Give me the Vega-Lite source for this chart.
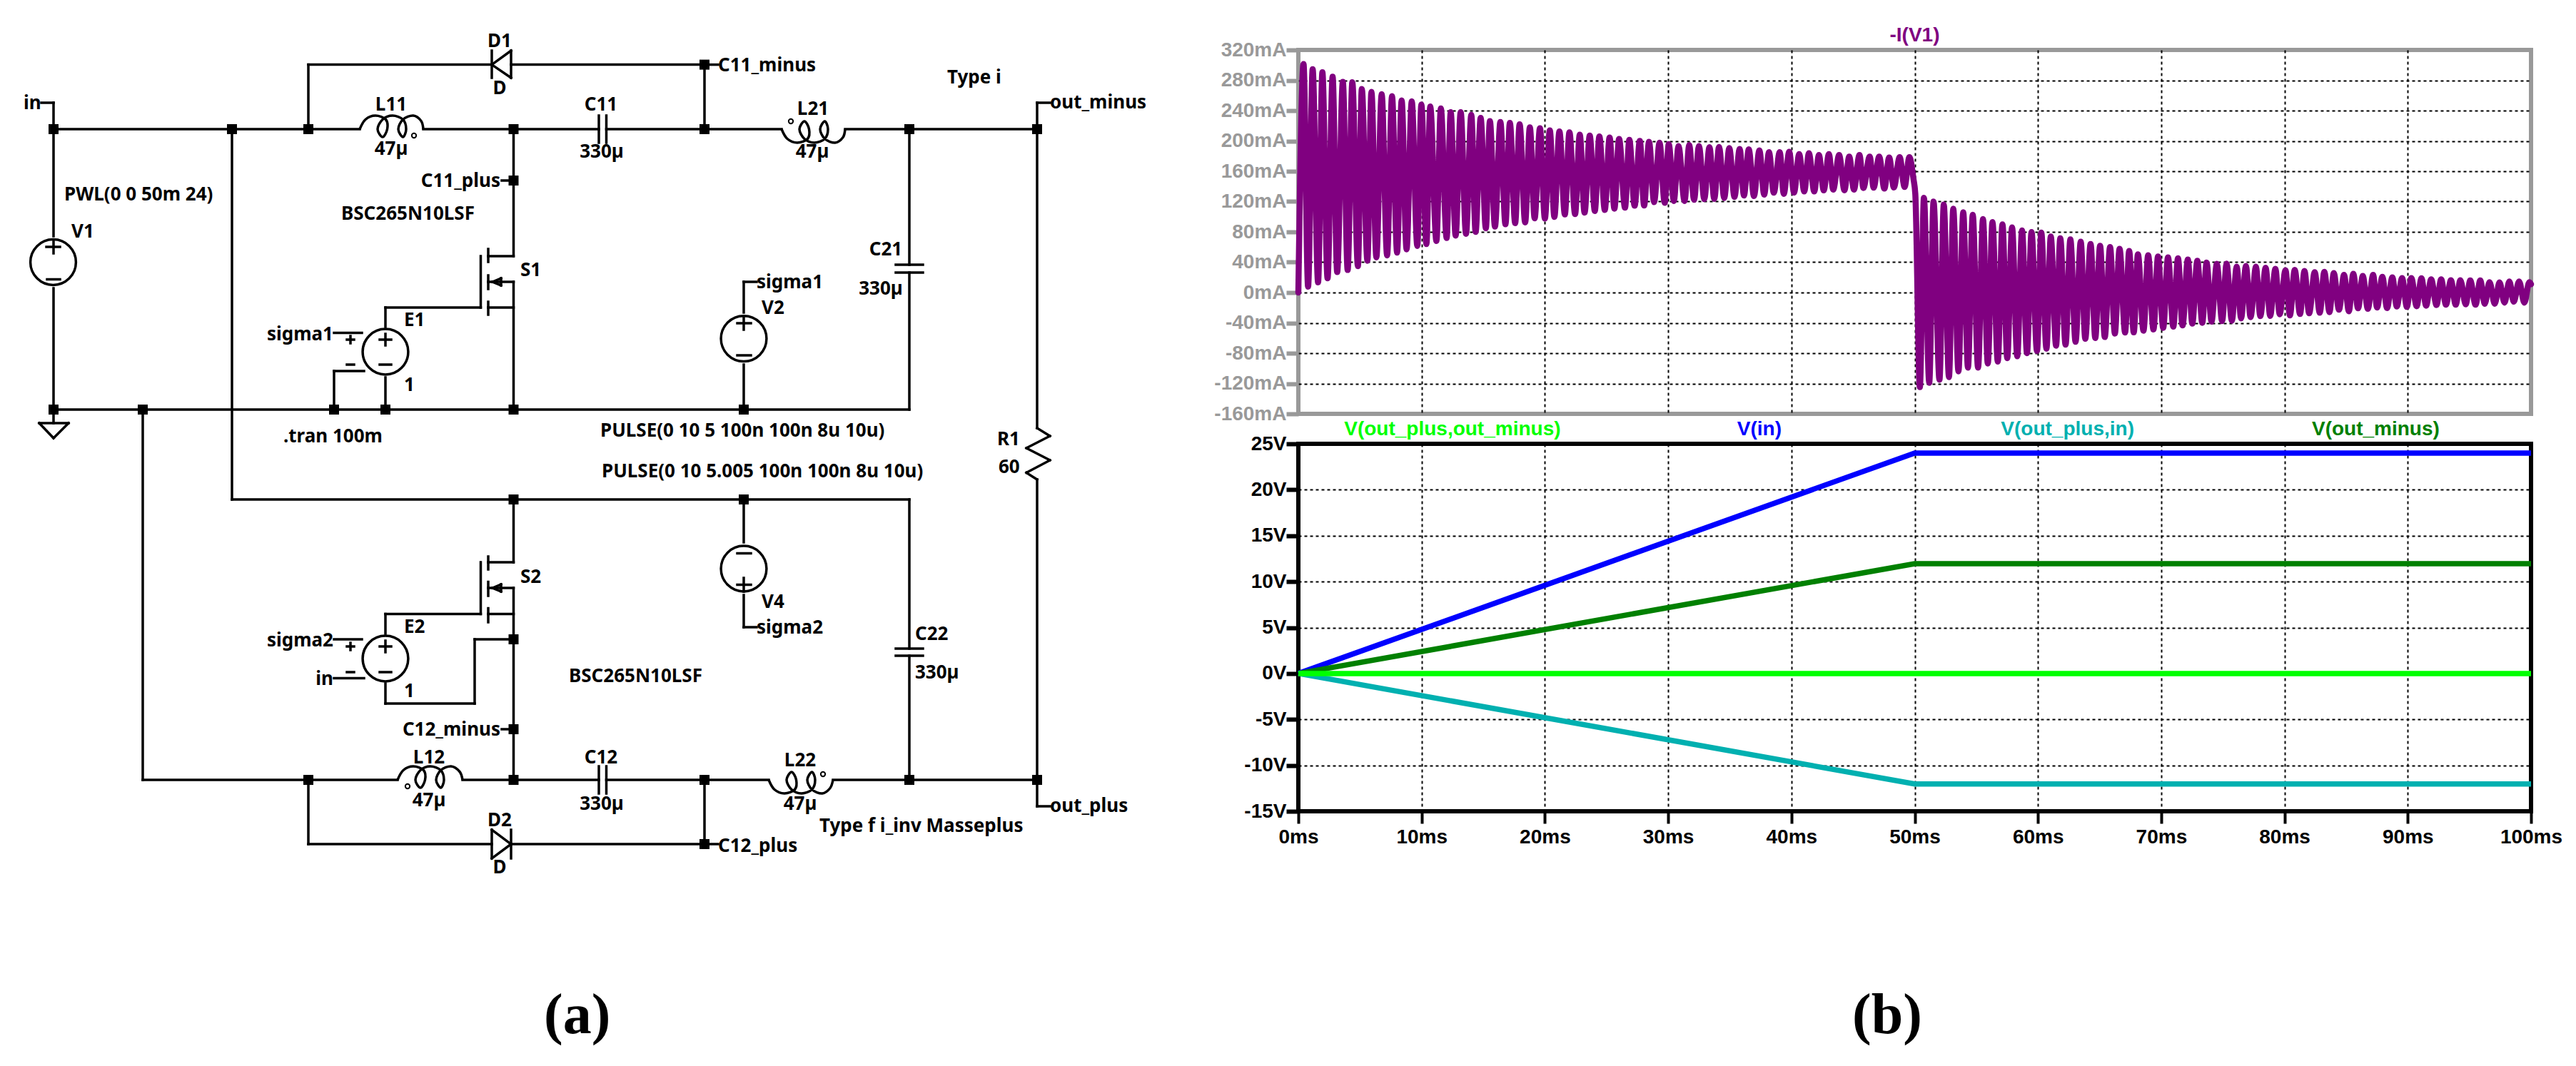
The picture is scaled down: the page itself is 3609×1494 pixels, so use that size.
{
  "$schema": "https://vega.github.io/schema/vega-lite/v6.json",
  "description": "LTspice schematic (a) and simulated current and voltage traces (b)",
  "background": "white",
  "padding": 0,
  "bounds": "flush",
  "spacing": 19,
  "config": {"font": "Liberation Sans"},
  "datasets": {
    "current": [
      {"ms":0,"mA":0},{"ms":0.42,"mA":301.5},{"ms":0.79,"mA":7.8},{"ms":1.16,"mA":294.6},{"ms":1.6,"mA":13.5},{"ms":1.95,"mA":290.5},{"ms":2.37,"mA":18.8},{"ms":2.78,"mA":284.8},{"ms":3.15,"mA":27},{"ms":3.61,"mA":278},{"ms":4,"mA":29.8},{"ms":4.38,"mA":277.3},{"ms":4.83,"mA":34.8},{"ms":5.15,"mA":268.5},{"ms":5.6,"mA":42},{"ms":5.93,"mA":264.8},{"ms":6.33,"mA":46.4},{"ms":6.76,"mA":261.6},{"ms":7.2,"mA":49},{"ms":7.6,"mA":259},{"ms":8.01,"mA":52.7},{"ms":8.38,"mA":253.5},{"ms":8.78,"mA":57},{"ms":9.2,"mA":252.2},{"ms":9.65,"mA":61.5},{"ms":9.98,"mA":248},{"ms":10.39,"mA":64},{"ms":10.7,"mA":245.3},{"ms":11.2,"mA":68},{"ms":11.56,"mA":242.8},{"ms":12.03,"mA":72},{"ms":12.36,"mA":237.8},{"ms":12.76,"mA":75},{"ms":13.17,"mA":238},{"ms":13.6,"mA":77.5},{"ms":14.03,"mA":234.3},{"ms":14.38,"mA":80},{"ms":14.79,"mA":230.3},{"ms":15.21,"mA":84.7},{"ms":15.54,"mA":226.2},{"ms":15.95,"mA":87},{"ms":16.39,"mA":225},{"ms":16.8,"mA":90},{"ms":17.16,"mA":223.7},{"ms":17.59,"mA":91.6},{"ms":17.95,"mA":222},{"ms":18.4,"mA":92.5},{"ms":18.78,"mA":218},{"ms":19.17,"mA":98},{"ms":19.6,"mA":216.8},{"ms":20,"mA":97.6},{"ms":20.4,"mA":214},{"ms":20.77,"mA":99.8},{"ms":21.18,"mA":212.4},{"ms":21.62,"mA":103},{"ms":21.99,"mA":211.4},{"ms":22.45,"mA":103.5},{"ms":22.83,"mA":208.3},{"ms":23.22,"mA":105.4},{"ms":23.64,"mA":207},{"ms":24.05,"mA":107.6},{"ms":24.42,"mA":205.8},{"ms":24.86,"mA":109},{"ms":25.25,"mA":204.5},{"ms":25.64,"mA":110.7},{"ms":26.02,"mA":202.7},{"ms":26.5,"mA":112},{"ms":26.85,"mA":201.4},{"ms":27.28,"mA":114.5},{"ms":27.7,"mA":200.1},{"ms":28.05,"mA":114.8},{"ms":28.45,"mA":198.9},{"ms":28.86,"mA":119.2},{"ms":29.3,"mA":197.6},{"ms":29.72,"mA":118.3},{"ms":30.05,"mA":195.8},{"ms":30.46,"mA":120.8},{"ms":30.84,"mA":193.2},{"ms":31.33,"mA":120.8},{"ms":31.71,"mA":194.5},{"ms":32.1,"mA":122.3},{"ms":32.5,"mA":193.2},{"ms":32.93,"mA":123.3},{"ms":33.35,"mA":191.7},{"ms":33.74,"mA":123.6},{"ms":34.13,"mA":192},{"ms":34.55,"mA":124.8},{"ms":34.96,"mA":190.7},{"ms":35.38,"mA":126.1},{"ms":35.8,"mA":189.5},{"ms":36.15,"mA":128},{"ms":36.54,"mA":188.9},{"ms":36.96,"mA":127.3},{"ms":37.4,"mA":187.6},{"ms":37.79,"mA":129.2},{"ms":38.18,"mA":185.1},{"ms":38.57,"mA":131.7},{"ms":39.05,"mA":185.1},{"ms":39.38,"mA":130.2},{"ms":39.82,"mA":185.7},{"ms":40.21,"mA":131.7},{"ms":40.63,"mA":182.6},{"ms":41.04,"mA":133.3},{"ms":41.42,"mA":183.8},{"ms":41.85,"mA":133.3},{"ms":42.23,"mA":181.3},{"ms":42.62,"mA":134.9},{"ms":43.04,"mA":182.6},{"ms":43.39,"mA":135.8},{"ms":43.87,"mA":181.3},{"ms":44.3,"mA":134.9},{"ms":44.69,"mA":179.4},{"ms":45.07,"mA":135.8},{"ms":45.52,"mA":181.3},{"ms":45.84,"mA":138},{"ms":46.35,"mA":179.4},{"ms":46.67,"mA":138.3},{"ms":47.12,"mA":179.4},{"ms":47.54,"mA":137.1},{"ms":47.93,"mA":178.2},{"ms":48.31,"mA":138.6},{"ms":48.78,"mA":178.5},{"ms":49.18,"mA":139.3},{"ms":49.57,"mA":178.5},{"ms":49.9,"mA":150},{"ms":50.05,"mA":130},
      {"ms":50.42,"mA":-124.6},{"ms":50.75,"mA":125},{"ms":51.18,"mA":-119},{"ms":51.53,"mA":120},{"ms":52.01,"mA":-115},{"ms":52.36,"mA":116},{"ms":52.78,"mA":-111.5},{"ms":53.13,"mA":110.6},{"ms":53.55,"mA":-104},{"ms":53.94,"mA":106},{"ms":54.32,"mA":-99},{"ms":54.71,"mA":102.6},{"ms":55.14,"mA":-99},{"ms":55.54,"mA":97},{"ms":55.93,"mA":-93.6},{"ms":56.31,"mA":93},{"ms":56.74,"mA":-91},{"ms":57.12,"mA":90},{"ms":57.51,"mA":-86.5},{"ms":57.9,"mA":86},{"ms":58.32,"mA":-84},{"ms":58.71,"mA":82},{"ms":59.11,"mA":-80},{"ms":59.48,"mA":79.8},{"ms":59.92,"mA":-77},{"ms":60.27,"mA":79},{"ms":60.69,"mA":-74},{"ms":61.04,"mA":74},{"ms":61.47,"mA":-70},{"ms":61.81,"mA":71.6},{"ms":62.24,"mA":-68.7},{"ms":62.63,"mA":70},{"ms":63.05,"mA":-65},{"ms":63.47,"mA":67},{"ms":63.84,"mA":-61},{"ms":64.27,"mA":64},{"ms":64.65,"mA":-60},{"ms":65.04,"mA":61.6},{"ms":65.42,"mA":-58.7},{"ms":65.85,"mA":60},{"ms":66.24,"mA":-54},{"ms":66.62,"mA":57.6},{"ms":67.07,"mA":-52.7},{"ms":67.4,"mA":54.8},{"ms":67.77,"mA":-52.5},{"ms":68.11,"mA":50.4},{"ms":68.56,"mA":-50.3},{"ms":68.94,"mA":49.2},{"ms":69.37,"mA":-48.7},{"ms":69.74,"mA":47.6},{"ms":70.16,"mA":-46.5},{"ms":70.55,"mA":46.4},{"ms":70.98,"mA":-44.9},{"ms":71.36,"mA":45.1},{"ms":71.73,"mA":-43.4},{"ms":72.16,"mA":43.5},{"ms":72.52,"mA":-40.9},{"ms":72.93,"mA":42},{"ms":73.33,"mA":-39.9},{"ms":73.68,"mA":39.5},{"ms":74.08,"mA":-38.4},{"ms":74.51,"mA":37.9},{"ms":74.94,"mA":-37.7},{"ms":75.3,"mA":38.2},{"ms":75.73,"mA":-37.1},{"ms":76.12,"mA":34.1},{"ms":76.48,"mA":-34},{"ms":76.87,"mA":35.1},{"ms":77.25,"mA":-32.4},{"ms":77.68,"mA":34.1},{"ms":78.04,"mA":-31.1},{"ms":78.47,"mA":32.6},{"ms":78.84,"mA":-30.8},{"ms":79.26,"mA":31.3},{"ms":79.61,"mA":-28.6},{"ms":80.08,"mA":29.4},{"ms":80.44,"mA":-30.2},{"ms":80.83,"mA":30},{"ms":81.26,"mA":-28.3},{"ms":81.62,"mA":28.5},{"ms":82,"mA":-27.4},{"ms":82.45,"mA":26.9},{"ms":82.86,"mA":-26.7},{"ms":83.23,"mA":27.2},{"ms":83.65,"mA":-25.8},{"ms":84,"mA":25.7},{"ms":84.42,"mA":-22.7},{"ms":84.83,"mA":23.2},{"ms":85.22,"mA":-24.6},{"ms":85.58,"mA":24.7},{"ms":85.97,"mA":-20.8},{"ms":86.35,"mA":21.9},{"ms":86.76,"mA":-21.4},{"ms":87.19,"mA":23.2},{"ms":87.51,"mA":-19.8},{"ms":87.94,"mA":20.6},{"ms":88.32,"mA":-20.5},{"ms":88.75,"mA":20},{"ms":89.11,"mA":-18.3},{"ms":89.54,"mA":19.1},{"ms":89.93,"mA":-18.9},{"ms":90.29,"mA":19.1},{"ms":90.72,"mA":-18},{"ms":91.11,"mA":18.8},{"ms":91.49,"mA":-17.3},{"ms":91.9,"mA":17.5},{"ms":92.33,"mA":-16.4},{"ms":92.71,"mA":17.5},{"ms":93.1,"mA":-16.1},{"ms":93.5,"mA":16.3},{"ms":93.89,"mA":-16.1},{"ms":94.27,"mA":16.3},{"ms":94.7,"mA":-15.5},{"ms":95.07,"mA":15.9},{"ms":95.5,"mA":-16.1},{"ms":95.88,"mA":15.9},{"ms":96.25,"mA":-14.8},{"ms":96.63,"mA":13.7},{"ms":97.06,"mA":-14.8},{"ms":97.44,"mA":13.4},{"ms":97.85,"mA":-13.3},{"ms":98.24,"mA":14.7},{"ms":98.6,"mA":-12},{"ms":99.03,"mA":14.7},{"ms":99.46,"mA":-13.3},{"ms":99.86,"mA":13.7},{"ms":100,"mA":11}
    ],
    "voltages": [
      {"trace":"V(in)","ms":0,"volts":0},{"trace":"V(in)","ms":50,"volts":24},{"trace":"V(in)","ms":100,"volts":24},
      {"trace":"V(out_minus)","ms":0,"volts":0},{"trace":"V(out_minus)","ms":50,"volts":11.95},{"trace":"V(out_minus)","ms":100,"volts":11.95},
      {"trace":"V(out_plus,in)","ms":0,"volts":0},{"trace":"V(out_plus,in)","ms":50,"volts":-12.03},{"trace":"V(out_plus,in)","ms":100,"volts":-12.03},
      {"trace":"V(out_plus,out_minus)","ms":0,"volts":0},{"trace":"V(out_plus,out_minus)","ms":50,"volts":0},{"trace":"V(out_plus,out_minus)","ms":100,"volts":0}
    ],
    "traceNames": [
      {"trace":"V(out_plus,out_minus)","ms":12.5,"volts":26.55},
      {"trace":"V(in)","ms":37.4,"volts":26.55},
      {"trace":"V(out_plus,in)","ms":62.4,"volts":26.55},
      {"trace":"V(out_minus)","ms":87.4,"volts":26.55}
    ],
    "wires": [
      {"x":75,"y":181,"x2":504,"y2":181},{"x":593,"y":181,"x2":839,"y2":181},{"x":849.5,"y":181,"x2":1095,"y2":181},{"x":1184,"y":181,"x2":1453,"y2":181},
      {"x":432,"y":90.6,"x2":689,"y2":90.6},{"x":716,"y":90.6,"x2":987,"y2":90.6},{"x":432,"y":90.6,"x2":432,"y2":181},{"x":987,"y":90.6,"x2":987,"y2":181},{"x":987,"y":90.6,"x2":1006,"y2":90.6},
      {"x":75,"y":144,"x2":75,"y2":331},{"x":58,"y":144,"x2":75,"y2":144},{"x":75,"y":404,"x2":75,"y2":574},{"x":75,"y":574,"x2":1274,"y2":574},
      {"x":75,"y":574,"x2":75,"y2":593},{"x":55,"y":593,"x2":96,"y2":593},{"x":55,"y":593,"x2":75,"y2":614},{"x":96,"y":593,"x2":75,"y2":614},
      {"x":325,"y":181,"x2":325,"y2":700},{"x":325,"y":700,"x2":1274,"y2":700},{"x":200,"y":574,"x2":200,"y2":1093},
      {"x":200,"y":1093,"x2":557,"y2":1093},{"x":648,"y":1093,"x2":839,"y2":1093},{"x":849.5,"y":1093,"x2":1077,"y2":1093},{"x":1167,"y":1093,"x2":1453,"y2":1093},
      {"x":1453,"y":144,"x2":1453,"y2":600},{"x":1453,"y":144,"x2":1471,"y2":144},{"x":1453,"y":672,"x2":1453,"y2":1130},{"x":1453,"y":1130,"x2":1471,"y2":1130},
      {"x":1453,"y":600,"x2":1471,"y2":611},{"x":1471,"y":611,"x2":1438,"y2":628},{"x":1438,"y":628,"x2":1471,"y2":645},{"x":1471,"y":645,"x2":1438,"y2":662.5},{"x":1438,"y":662.5,"x2":1453,"y2":672},
      {"x":1274,"y":181,"x2":1274,"y2":371},{"x":1255,"y":371,"x2":1293,"y2":371},{"x":1255,"y":382,"x2":1293,"y2":382},{"x":1274,"y":382,"x2":1274,"y2":574},
      {"x":1274,"y":700,"x2":1274,"y2":909},{"x":1255,"y":909,"x2":1293,"y2":909},{"x":1255,"y":919,"x2":1293,"y2":919},{"x":1274,"y":919,"x2":1274,"y2":1093},
      {"x":839,"y":162,"x2":839,"y2":200},{"x":849.5,"y":162,"x2":849.5,"y2":200},{"x":839,"y":1074,"x2":839,"y2":1112},{"x":849.5,"y":1074,"x2":849.5,"y2":1112},
      {"x":689,"y":71,"x2":689,"y2":109},{"x":689,"y":90.6,"x2":716,"y2":71},{"x":689,"y":90.6,"x2":716,"y2":109},{"x":716,"y":71,"x2":716,"y2":109},
      {"x":716,"y":1163,"x2":716,"y2":1203},{"x":716,"y":1183,"x2":689,"y2":1163},{"x":716,"y":1183,"x2":689,"y2":1203},{"x":689,"y":1163,"x2":689,"y2":1203},
      {"x":432,"y":1183,"x2":689,"y2":1183},{"x":716,"y":1183,"x2":987,"y2":1183},{"x":432,"y":1093,"x2":432,"y2":1183},{"x":987,"y":1093,"x2":987,"y2":1183},{"x":987,"y":1183,"x2":1006,"y2":1183},
      {"x":719.5,"y":181,"x2":719.5,"y2":359},{"x":684,"y":359,"x2":719.5,"y2":359},{"x":684,"y":395,"x2":719.5,"y2":395},{"x":719.5,"y":395,"x2":719.5,"y2":574},{"x":684,"y":431,"x2":719.5,"y2":431},
      {"x":684,"y":349,"x2":684,"y2":367},{"x":684,"y":386,"x2":684,"y2":405},{"x":684,"y":423,"x2":684,"y2":441},{"x":673.5,"y":359,"x2":673.5,"y2":431},{"x":540,"y":431,"x2":673.5,"y2":431},{"x":540,"y":431,"x2":540,"y2":458},{"x":540,"y":529,"x2":540,"y2":574},
      {"x":690,"y":395,"x2":702,"y2":390},{"x":690,"y":395,"x2":702,"y2":400},{"x":702,"y":390,"x2":702,"y2":400},{"x":703,"y":253,"x2":719.5,"y2":253},
      {"x":468,"y":466.5,"x2":507,"y2":466.5},{"x":468,"y":520,"x2":510,"y2":520},{"x":468,"y":520,"x2":468,"y2":574},
      {"x":486,"y":476,"x2":496,"y2":476},{"x":491,"y":471,"x2":491,"y2":481},{"x":486,"y":511,"x2":496,"y2":511},{"x":532,"y":476,"x2":548,"y2":476},{"x":540,"y":468,"x2":540,"y2":484},{"x":532,"y":511,"x2":548,"y2":511},
      {"x":65,"y":346,"x2":84,"y2":346},{"x":75,"y":337,"x2":75,"y2":355},{"x":66,"y":391.5,"x2":84,"y2":391.5},
      {"x":1042,"y":395,"x2":1042,"y2":438},{"x":1042,"y":395,"x2":1060,"y2":395},{"x":1042,"y":511,"x2":1042,"y2":574},{"x":1033,"y":453,"x2":1052,"y2":453},{"x":1042,"y":444,"x2":1042,"y2":462},{"x":1033,"y":498,"x2":1052,"y2":498},
      {"x":1042,"y":700,"x2":1042,"y2":760},{"x":1042,"y":834,"x2":1042,"y2":879},{"x":1042,"y":879,"x2":1060,"y2":879},{"x":1033,"y":775.5,"x2":1052,"y2":775.5},{"x":1033,"y":819.5,"x2":1052,"y2":819.5},{"x":1042,"y":810,"x2":1042,"y2":829},
      {"x":719.5,"y":700,"x2":719.5,"y2":788},{"x":684,"y":788,"x2":719.5,"y2":788},{"x":684,"y":824,"x2":719.5,"y2":824},{"x":719.5,"y":824,"x2":719.5,"y2":1093},{"x":684,"y":860.5,"x2":719.5,"y2":860.5},
      {"x":684,"y":780,"x2":684,"y2":798},{"x":684,"y":815.5,"x2":684,"y2":835},{"x":684,"y":852.5,"x2":684,"y2":872},{"x":673.5,"y":788,"x2":673.5,"y2":860.5},{"x":540,"y":860.5,"x2":673.5,"y2":860.5},{"x":540,"y":860.5,"x2":540,"y2":888},
      {"x":540,"y":958,"x2":540,"y2":986},{"x":540,"y":986,"x2":665,"y2":986},{"x":665,"y":986,"x2":665,"y2":896},{"x":665,"y":896,"x2":719.5,"y2":896},{"x":703,"y":1022,"x2":719.5,"y2":1022},
      {"x":690,"y":824,"x2":702,"y2":819},{"x":690,"y":824,"x2":702,"y2":829},{"x":702,"y":819,"x2":702,"y2":829},
      {"x":468,"y":896,"x2":507,"y2":896},{"x":468,"y":950.6,"x2":510,"y2":950.6},
      {"x":486,"y":906,"x2":496,"y2":906},{"x":491,"y":901,"x2":491,"y2":911},{"x":486,"y":942,"x2":496,"y2":942},{"x":532,"y":906,"x2":548,"y2":906},{"x":540,"y":898,"x2":540,"y2":914},{"x":532,"y":942,"x2":548,"y2":942}
    ],
    "coils": [
      {"coil":"L11","i":0,"x":504,"y":181},{"coil":"L11","i":1,"x":512,"y":167.5},{"coil":"L11","i":2,"x":526,"y":162},{"coil":"L11","i":3,"x":540.5,"y":167.5},{"coil":"L11","i":4,"x":542.5,"y":181},{"coil":"L11","i":5,"x":536,"y":192},{"coil":"L11","i":6,"x":529,"y":181},{"coil":"L11","i":7,"x":536,"y":167.5},{"coil":"L11","i":8,"x":550,"y":162},{"coil":"L11","i":9,"x":564.5,"y":167.5},{"coil":"L11","i":10,"x":569,"y":181},{"coil":"L11","i":11,"x":564.5,"y":192},{"coil":"L11","i":12,"x":558,"y":181},{"coil":"L11","i":13,"x":564.5,"y":167.5},{"coil":"L11","i":14,"x":579,"y":162},{"coil":"L11","i":15,"x":590,"y":169.5},{"coil":"L11","i":16,"x":593,"y":181},
      {"coil":"L21","i":0,"x":1095,"y":181},{"coil":"L21","i":1,"x":1103,"y":194.5},{"coil":"L21","i":2,"x":1117,"y":200},{"coil":"L21","i":3,"x":1131.5,"y":194.5},{"coil":"L21","i":4,"x":1133.5,"y":181},{"coil":"L21","i":5,"x":1127,"y":170},{"coil":"L21","i":6,"x":1120,"y":181},{"coil":"L21","i":7,"x":1127,"y":194.5},{"coil":"L21","i":8,"x":1141,"y":200},{"coil":"L21","i":9,"x":1155.5,"y":194.5},{"coil":"L21","i":10,"x":1160,"y":181},{"coil":"L21","i":11,"x":1155.5,"y":170},{"coil":"L21","i":12,"x":1149,"y":181},{"coil":"L21","i":13,"x":1155.5,"y":194.5},{"coil":"L21","i":14,"x":1170,"y":200},{"coil":"L21","i":15,"x":1181,"y":192.5},{"coil":"L21","i":16,"x":1184,"y":181},
      {"coil":"L12","i":0,"x":557,"y":1093},{"coil":"L12","i":1,"x":565,"y":1079.5},{"coil":"L12","i":2,"x":579,"y":1074},{"coil":"L12","i":3,"x":593.5,"y":1079.5},{"coil":"L12","i":4,"x":595.5,"y":1093},{"coil":"L12","i":5,"x":589,"y":1104},{"coil":"L12","i":6,"x":582,"y":1093},{"coil":"L12","i":7,"x":589,"y":1079.5},{"coil":"L12","i":8,"x":603,"y":1074},{"coil":"L12","i":9,"x":617.5,"y":1079.5},{"coil":"L12","i":10,"x":622,"y":1093},{"coil":"L12","i":11,"x":617.5,"y":1104},{"coil":"L12","i":12,"x":611,"y":1093},{"coil":"L12","i":13,"x":617.5,"y":1079.5},{"coil":"L12","i":14,"x":632,"y":1074},{"coil":"L12","i":15,"x":644,"y":1081.5},{"coil":"L12","i":16,"x":648,"y":1093},
      {"coil":"L22","i":0,"x":1077,"y":1093},{"coil":"L22","i":1,"x":1085,"y":1106.5},{"coil":"L22","i":2,"x":1099,"y":1112},{"coil":"L22","i":3,"x":1113.5,"y":1106.5},{"coil":"L22","i":4,"x":1115.5,"y":1093},{"coil":"L22","i":5,"x":1109,"y":1082},{"coil":"L22","i":6,"x":1102,"y":1093},{"coil":"L22","i":7,"x":1109,"y":1106.5},{"coil":"L22","i":8,"x":1123,"y":1112},{"coil":"L22","i":9,"x":1137.5,"y":1106.5},{"coil":"L22","i":10,"x":1142,"y":1093},{"coil":"L22","i":11,"x":1137.5,"y":1082},{"coil":"L22","i":12,"x":1131,"y":1093},{"coil":"L22","i":13,"x":1137.5,"y":1106.5},{"coil":"L22","i":14,"x":1152,"y":1112},{"coil":"L22","i":15,"x":1163,"y":1104.5},{"coil":"L22","i":16,"x":1167,"y":1093}
    ],
    "nodes": [
      {"x":75,"y":181},{"x":325,"y":181},{"x":432,"y":181},{"x":719.5,"y":181},{"x":987,"y":181},{"x":1274,"y":181},{"x":1453,"y":181},{"x":987,"y":90.6},{"x":719.5,"y":253},
      {"x":75,"y":574},{"x":200,"y":574},{"x":468,"y":574},{"x":540,"y":574},{"x":719.5,"y":574},{"x":1042,"y":574},{"x":719.5,"y":700},{"x":1042,"y":700},
      {"x":719.5,"y":896},{"x":719.5,"y":1022},{"x":432,"y":1093},{"x":719.5,"y":1093},{"x":987,"y":1093},{"x":1274,"y":1093},{"x":1453,"y":1093},{"x":987,"y":1183}
    ],
    "sources": [
      {"name":"V1","x":74.5,"y":367.5},{"name":"V2","x":1042,"y":474.6},{"name":"V4","x":1042,"y":797},{"name":"E1","x":540,"y":493},{"name":"E2","x":540,"y":923}
    ],
    "dots": [
      {"x":580,"y":190},{"x":1108,"y":170},{"x":571,"y":1102},{"x":1153,"y":1085}
    ],
    "textLeft": [
      {"x":1006,"y":92.4,"text":"C11_minus"},{"x":1327,"y":109,"text":"Type i"},{"x":33,"y":145,"text":"in"},{"x":90,"y":273,"text":"PWL(0 0 50m 24)"},{"x":478,"y":300,"text":"BSC265N10LSF"},{"x":100,"y":325,"text":"V1"},{"x":729,"y":378.6,"text":"S1"},{"x":1060,"y":396,"text":"sigma1"},{"x":1067,"y":432,"text":"V2"},{"x":566,"y":449,"text":"E1"},{"x":566,"y":540,"text":"1"},{"x":397,"y":611.6,"text":".tran 100m"},{"x":841,"y":603.6,"text":"PULSE(0 10 5 100n 100n 8u 10u)"},{"x":843,"y":661,"text":"PULSE(0 10 5.005 100n 100n 8u 10u)"},{"x":1397,"y":616,"text":"R1"},{"x":1399,"y":655,"text":"60"},{"x":1471,"y":144,"text":"out_minus"},{"x":1471,"y":1130,"text":"out_plus"},
      {"x":729,"y":808.7,"text":"S2"},{"x":566,"y":879,"text":"E2"},{"x":566,"y":969,"text":"1"},{"x":1067,"y":844,"text":"V4"},{"x":1060,"y":880,"text":"sigma2"},{"x":1282,"y":888.5,"text":"C22"},{"x":1282,"y":943,"text":"330µ"},{"x":797,"y":948,"text":"BSC265N10LSF"},{"x":1148,"y":1157.6,"text":"Type f i_inv Masseplus"},{"x":1006,"y":1185.5,"text":"C12_plus"}
    ],
    "textCenter": [
      {"x":700,"y":58,"text":"D1"},{"x":700,"y":124,"text":"D"},{"x":548,"y":147,"text":"L11"},{"x":548,"y":208.5,"text":"47µ"},{"x":842,"y":147,"text":"C11"},{"x":843,"y":213,"text":"330µ"},{"x":1139,"y":153,"text":"L21"},{"x":1138,"y":213,"text":"47µ"},{"x":1241,"y":350,"text":"C21"},{"x":1234,"y":405,"text":"330µ"},
      {"x":601,"y":1062,"text":"L12"},{"x":601,"y":1122,"text":"47µ"},{"x":842,"y":1062,"text":"C12"},{"x":843,"y":1127,"text":"330µ"},{"x":1121,"y":1066,"text":"L22"},{"x":1121,"y":1127,"text":"47µ"},{"x":700,"y":1150,"text":"D2"},{"x":700,"y":1216,"text":"D"}
    ],
    "textRight": [
      {"x":701,"y":253.6,"text":"C11_plus"},{"x":467,"y":469,"text":"sigma1"},{"x":467,"y":897.6,"text":"sigma2"},{"x":467,"y":952,"text":"in"},{"x":701,"y":1023,"text":"C12_minus"}
    ]
  },
  "hconcat": [
    {
      "width": 1800,
      "height": 1494,
      "view": {"stroke": null},
      "encoding": {
        "x": {"field": "x", "type": "quantitative", "axis": null, "scale": {"domain": [0, 1800], "nice": false, "zero": false}},
        "y": {"field": "y", "type": "quantitative", "axis": null, "scale": {"domain": [0, 1494], "nice": false, "zero": false, "reverse": true}}
      },
      "layer": [
        {
          "data": {"name": "wires"},
          "mark": {"type": "rule", "color": "black", "strokeWidth": 3.5, "strokeCap": "square"},
          "encoding": {"x2": {"field": "x2"}, "y2": {"field": "y2"}}
        },
        {
          "data": {"name": "coils"},
          "mark": {"type": "line", "color": "black", "strokeWidth": 3.5, "interpolate": "cardinal"},
          "encoding": {"detail": {"field": "coil"}, "order": {"field": "i", "type": "quantitative"}}
        },
        {
          "data": {"name": "nodes"},
          "mark": {"type": "point", "shape": "square", "filled": true, "color": "black", "opacity": 1, "size": 196}
        },
        {
          "data": {"name": "sources"},
          "mark": {"type": "point", "shape": "circle", "filled": false, "color": "black", "opacity": 1, "strokeWidth": 3.5, "size": 4072}
        },
        {
          "data": {"name": "dots"},
          "mark": {"type": "point", "shape": "circle", "filled": false, "color": "black", "opacity": 1, "strokeWidth": 2, "size": 40}
        },
        {
          "data": {"name": "textLeft"},
          "mark": {"type": "text", "align": "left", "baseline": "middle", "font": "Noto Sans", "fontWeight": "bold", "fontSize": 26},
          "encoding": {"text": {"field": "text"}}
        },
        {
          "data": {"name": "textCenter"},
          "mark": {"type": "text", "align": "center", "baseline": "middle", "font": "Noto Sans", "fontWeight": "bold", "fontSize": 26},
          "encoding": {"text": {"field": "text"}}
        },
        {
          "data": {"name": "textRight"},
          "mark": {"type": "text", "align": "right", "baseline": "middle", "font": "Noto Sans", "fontWeight": "bold", "fontSize": 26},
          "encoding": {"text": {"field": "text"}}
        },
        {
          "data": {"values": [{"x": 808.7, "y": 1424, "text": "(a)"}]},
          "mark": {"type": "text", "align": "center", "baseline": "middle", "font": "Liberation Serif", "fontWeight": "bold", "fontSize": 80},
          "encoding": {"text": {"field": "text"}}
        }
      ]
    },
    {
      "spacing": 42,
      "bounds": "flush",
      "vconcat": [
        {
          "width": 1727,
          "height": 28,
          "view": {"stroke": null},
          "data": {"values": [{"blank": ""}]},
          "mark": {"type": "text"},
          "encoding": {"text": {"field": "blank"}}
        },
        {
          "width": 1727,
          "height": 510,
          "view": {"stroke": "#999999", "strokeWidth": 6},
          "layer": [
            {
              "data": {"name": "current"},
              "mark": {"type": "line", "color": "#800080", "strokeWidth": 8.5, "interpolate": "monotone", "strokeJoin": "round", "strokeCap": "round", "clip": false},
              "encoding": {
                "x": {
                  "field": "ms", "type": "quantitative", "title": null,
                  "scale": {"domain": [0, 100], "nice": false, "zero": false},
                  "axis": {"values": [10, 20, 30, 40, 50, 60, 70, 80, 90], "labels": false, "ticks": false, "domain": false, "grid": true, "gridColor": "black", "gridDash": [4, 4], "gridWidth": 2}
                },
                "y": {
                  "field": "mA", "type": "quantitative", "title": null,
                  "scale": {"domain": [-160, 320], "nice": false, "zero": false},
                  "axis": {
                    "values": [-160, -120, -80, -40, 0, 40, 80, 120, 160, 200, 240, 280, 320],
                    "labelExpr": "datum.value + 'mA'", "labelColor": "#999999", "labelFont": "Liberation Sans", "labelFontWeight": "bold", "labelFontSize": 28, "labelPadding": 0, "labelOverlap": false,
                    "tickColor": "#999999", "tickWidth": 6, "tickSize": 17, "domain": false,
                    "grid": true, "gridColor": "black", "gridDash": [4, 4], "gridWidth": 2,
                    "gridOpacity": {"condition": {"test": "datum.value === 320 || datum.value === -160", "value": 0}, "value": 1}
                  }
                }
              }
            },
            {
              "data": {"values": [{"ms": 50, "mA": 338.5, "text": "-I(V1)"}]},
              "mark": {"type": "text", "color": "#800080", "font": "Liberation Sans", "fontWeight": "bold", "fontSize": 28, "baseline": "middle"},
              "encoding": {
                "x": {"field": "ms", "type": "quantitative"},
                "y": {"field": "mA", "type": "quantitative"},
                "text": {"field": "text"}
              }
            }
          ]
        },
        {
          "width": 1727,
          "height": 515,
          "view": {"stroke": "black", "strokeWidth": 6},
          "layer": [
            {
              "data": {"name": "voltages"},
              "mark": {"type": "line", "strokeWidth": 7.5, "clip": false},
              "encoding": {
                "x": {
                  "field": "ms", "type": "quantitative", "title": null,
                  "scale": {"domain": [0, 100], "nice": false, "zero": false},
                  "axis": {
                    "values": [0, 10, 20, 30, 40, 50, 60, 70, 80, 90, 100],
                    "labelExpr": "datum.value + 'ms'", "labelColor": "black", "labelFont": "Liberation Sans", "labelFontWeight": "bold", "labelFontSize": 28, "labelPadding": 5, "labelOverlap": false, "labelFlush": false, "labelBound": false, "labelAngle": 0,
                    "tickColor": "black", "tickWidth": 4, "tickSize": 17, "domain": false,
                    "grid": true, "gridColor": "black", "gridDash": [4, 4], "gridWidth": 2
                  }
                },
                "y": {
                  "field": "volts", "type": "quantitative", "title": null,
                  "scale": {"domain": [-15, 25], "nice": false, "zero": false},
                  "axis": {
                    "values": [-15, -10, -5, 0, 5, 10, 15, 20, 25],
                    "labelExpr": "datum.value + 'V'", "labelColor": "black", "labelFont": "Liberation Sans", "labelFontWeight": "bold", "labelFontSize": 28, "labelPadding": 0, "labelOverlap": false,
                    "tickColor": "black", "tickWidth": 6, "tickSize": 17, "domain": false,
                    "grid": true, "gridColor": "black", "gridDash": [4, 4], "gridWidth": 2
                  }
                },
                "color": {
                  "field": "trace", "type": "nominal", "legend": null,
                  "scale": {"domain": ["V(in)", "V(out_minus)", "V(out_plus,in)", "V(out_plus,out_minus)"], "range": ["#0000ff", "#008000", "#00b0b0", "#00ff00"]}
                }
              }
            },
            {
              "data": {"name": "traceNames"},
              "mark": {"type": "text", "font": "Liberation Sans", "fontWeight": "bold", "fontSize": 28, "baseline": "middle"},
              "encoding": {
                "x": {"field": "ms", "type": "quantitative"},
                "y": {"field": "volts", "type": "quantitative"},
                "text": {"field": "trace"},
                "color": {"field": "trace", "type": "nominal", "legend": null}
              }
            },
            {
              "data": {"values": [{"ms": 47.77, "volts": -37.29, "text": "(b)"}]},
              "mark": {"type": "text", "color": "black", "font": "Liberation Serif", "fontWeight": "bold", "fontSize": 80, "baseline": "middle"},
              "encoding": {
                "x": {"field": "ms", "type": "quantitative"},
                "y": {"field": "volts", "type": "quantitative"},
                "text": {"field": "text"}
              }
            }
          ]
        }
      ]
    }
  ]
}
